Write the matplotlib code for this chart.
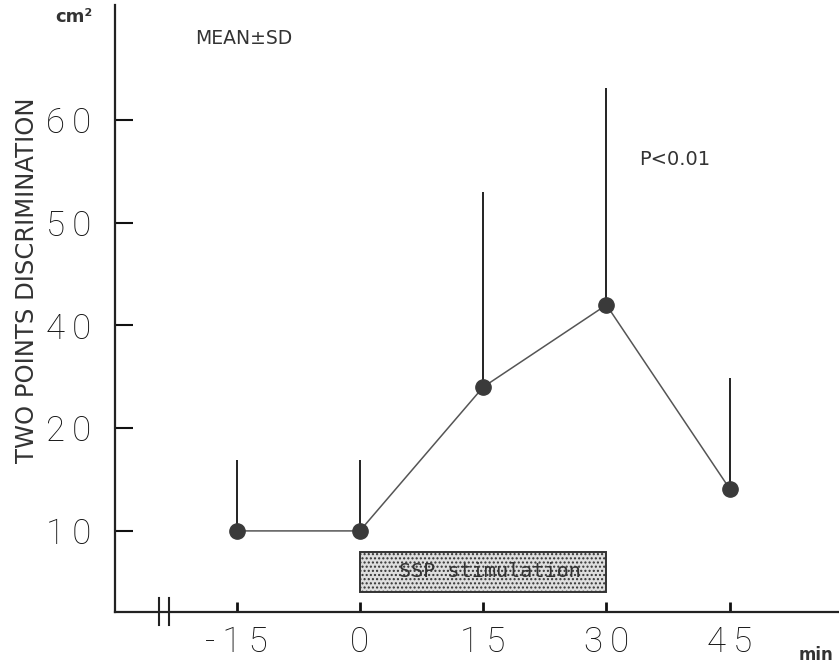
import matplotlib.pyplot as plt
from matplotlib.patches import Rectangle

# --- DATOS ---
tiempos = [-15, 0, 15, 30, 45]
medias = [10, 10, 24, 32, 14.1]
sd_sup = [6.9, 6.9, 19.0, 21.1, 10.8]   # solo se dibuja la parte superior

ticks_y = [10, 20, 30, 40, 50]
etiquetas_y = ["1\u20090", "2\u20090", "4\u20090", "5\u20090", "6\u20090"]
etiquetas_x = ["-\u20091\u20095", "0", "1\u20095", "3\u20090", "4\u20095"]

estimulo_inicio, estimulo_fin = 0, 30

fuente = ['Roboto', 'DejaVu Sans']
gris = '#3a3a3a'

fig = plt.figure(figsize=(8.39, 6.66), dpi=100)
ax = fig.add_axes([0.137, 0.081, 0.863, 0.9115])

# linea y puntos
ax.plot(tiempos, medias, color='#555555', linewidth=1.1, zorder=2)
ax.errorbar(tiempos, medias, yerr=[[0] * len(sd_sup), sd_sup], fmt='none',
            ecolor='#222222', elinewidth=1.4, capsize=0, zorder=1)
ax.plot(tiempos, medias, 'o', color=gris, markersize=11, zorder=3)

# caja de estimulacion
caja = Rectangle((estimulo_inicio, 4.05), estimulo_fin - estimulo_inicio, 3.9,
                 facecolor='#dedede', edgecolor='#333333', linewidth=1.4,
                 hatch='....', zorder=2)
ax.add_patch(caja)
ax.text(15.8, 6.0, 'SSP stimulation',
        ha='center', va='center', fontsize=14.5, family='DejaVu Sans Mono',
        color='#333333', zorder=4)

# ejes
ax.set_xlim(-29.8, 58.3)
ax.set_ylim(2.1, 61.2)
ax.spines['top'].set_visible(False)
ax.spines['right'].set_visible(False)
ax.spines['left'].set_linewidth(1.6)
ax.spines['bottom'].set_linewidth(1.6)
ax.spines['left'].set_color('#222222')
ax.spines['bottom'].set_color('#222222')

ax.set_xticks(tiempos)
ax.set_xticklabels(etiquetas_x, family=fuente, fontweight='light', fontsize=25, color='#111111')
ax.set_yticks(ticks_y)
ax.set_yticklabels(etiquetas_y, family=fuente, fontweight='light', fontsize=25, color='#111111')
ax.tick_params(axis='x', direction='in', length=7, width=2, pad=10, colors='#111111')
ax.tick_params(axis='y', direction='in', length=13, width=1.5, pad=17, colors='#111111')

# marca de corte del eje x
for xb in [-24.4, -23.2]:
    ax.plot([xb, xb], [-0.021, 0.023], color='#222222', linewidth=1.5,
            transform=ax.get_xaxis_transform(), clip_on=False)

# textos
ax.set_ylabel('TWO POINTS DISCRIMINATION', family=['DejaVu Sans'],
              fontsize=17.5, color='#333333')
ax.yaxis.set_label_coords(-0.105, 0.547)
fig.text(0.088, 0.974, 'cm²', fontsize=13, fontweight='bold', ha='center',
         va='center', color='#333333')
fig.text(0.232, 0.942, 'MEAN±SD', fontsize=13.5, family='DejaVu Sans',
         va='center', color='#333333')
fig.text(0.762, 0.760, 'P<0.01', fontsize=14, family='DejaVu Sans',
         va='center', color='#333333')
fig.text(0.972, 0.017, 'min', fontsize=12, fontweight='bold', ha='center',
         va='center', color='#333333')

fig.savefig('out.png', dpi=100)
